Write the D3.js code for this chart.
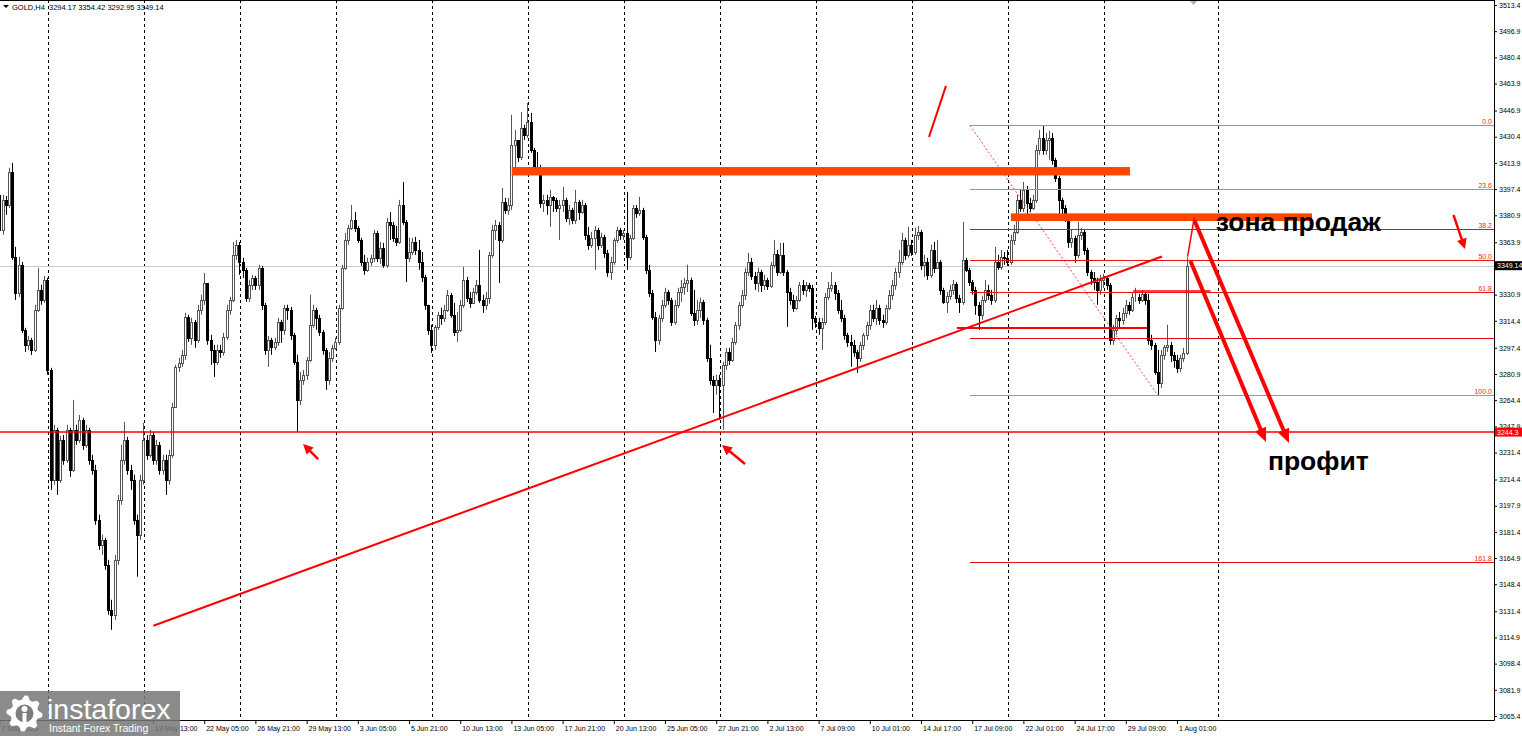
<!DOCTYPE html>
<html><head><meta charset="utf-8">
<script src="https://cdn.jsdelivr.net/npm/d3@7"></script>
<style>
body{margin:0;background:#fff;overflow:hidden}
svg{display:block}
text{font-family:"Liberation Sans",Arial,sans-serif}
</style>
</head><body>
<svg id="c" width="1522" height="736"></svg>
<script>
// ---------------- DATA ----------------
const symbolTitle = "GOLD,H4";
const firstOpen = 3393.8;
const closes = [
3371.7,3390.6,3387.4,3408.2,3354.7,3332.0,3349.7,3308.7,3299.3,3302.4,
3296.1,3321.3,3333.9,3327.6,3340.2,3283.5,3214.2,3245.7,3214.2,3239.4,
3226.8,3245.7,3220.5,3245.7,3239.4,3252.0,3236.3,3245.7,3226.8,3220.5,
3189.0,3173.3,3176.4,3160.6,3132.3,3129.2,3163.8,3201.6,3226.8,3239.4,
3220.5,3214.2,3189.0,3179.6,3214.2,3239.4,3230.0,3242.5,3226.8,3236.3,
3220.5,3226.8,3214.2,3230.0,3260.2,3285.4,3287.9,3293.0,3316.9,3303.7,
3313.7,3302.4,3321.3,3327.6,3338.3,3302.4,3296.1,3288.5,3296.1,3294.8,
3304.3,3321.3,3327.6,3356.0,3362.3,3351.5,3346.5,3328.9,3337.1,3341.5,
3337.1,3347.8,3324.5,3296.1,3302.4,3298.0,3301.1,3313.7,3308.7,3322.6,
3321.3,3305.6,3288.5,3264.6,3277.2,3280.4,3289.8,3311.9,3321.3,3316.3,
3307.4,3296.1,3277.2,3291.1,3297.4,3301.1,3322.6,3347.8,3365.4,3373.0,
3377.7,3373.0,3365.4,3351.5,3346.5,3351.5,3354.1,3369.8,3354.1,3360.4,
3349.7,3376.7,3374.9,3366.7,3364.1,3387.4,3376.7,3354.1,3357.8,3364.1,
3359.1,3351.5,3342.1,3324.5,3308.7,3299.3,3310.6,3318.2,3316.3,3321.3,
3330.8,3318.2,3307.4,3308.7,3324.5,3340.2,3328.9,3325.7,3332.6,3337.1,
3327.6,3324.5,3328.9,3356.0,3371.7,3374.9,3365.4,3389.3,3384.3,3387.4,
3425.3,3428.4,3417.6,3435.9,3431.6,3439.7,3422.1,3411.4,3410.8,3388.7,
3390.6,3387.4,3392.5,3390.6,3385.6,3387.4,3390.6,3379.3,3384.3,3378.0,
3389.3,3383.0,3387.4,3368.6,3362.3,3366.7,3371.7,3362.3,3367.3,3357.2,
3345.2,3351.5,3365.4,3371.7,3368.6,3369.8,3354.7,3366.7,3385.6,3382.4,
3384.3,3367.3,3346.5,3332.0,3316.9,3302.4,3316.3,3324.5,3332.6,3327.6,
3313.7,3324.5,3332.6,3335.8,3338.3,3340.2,3319.4,3315.0,3321.3,3326.3,
3315.0,3291.1,3277.2,3274.1,3277.2,3274.1,3286.7,3294.8,3289.8,3301.1,
3311.9,3324.5,3330.8,3345.2,3351.5,3342.7,3338.3,3345.2,3337.1,3340.2,
3336.4,3349.7,3356.6,3345.2,3356.0,3345.2,3332.6,3327.6,3322.6,3327.6,
3337.1,3333.9,3337.1,3335.2,3316.3,3313.7,3310.0,3313.7,3329.5,3335.2,
3337.1,3332.0,3321.3,3316.3,3305.6,3301.1,3299.3,3294.8,3291.1,3299.3,
3305.6,3311.9,3321.3,3316.3,3322.6,3315.0,3313.7,3322.6,3330.8,3337.1,
3345.2,3351.5,3365.4,3356.0,3362.3,3357.8,3368.6,3370.4,3349.7,3351.5,
3343.4,3359.1,3347.8,3351.5,3333.9,3326.3,3330.1,3333.9,3337.7,3328.9,
3326.3,3352.8,3346.5,3338.9,3333.9,3324.5,3318.2,3327.6,3333.9,3330.8,
3327.6,3351.5,3348.4,3354.7,3354.1,3351.5,3365.4,3370.4,3390.6,3385.6,
3396.9,3388.7,3385.6,3390.6,3422.1,3429.7,3422.1,3428.4,3429.7,3415.8,
3404.5,3390.6,3385.6,3379.3,3364.1,3366.7,3356.0,3368.6,3370.4,3359.1,
3345.2,3341.5,3338.9,3333.9,3340.2,3341.5,3337.1,3302.4,3308.7,3316.3,
3315.0,3319.4,3324.5,3321.3,3329.5,3329.5,3327.6,3331.4,3327.6,3302.4,
3299.3,3282.2,3275.3,3293.0,3298.0,3299.3,3293.0,3289.8,3284.8,3291.1,
3294.17,3349.14];
const highs = [
3396.9,3393.8,3393.1,3410.8,3413.9,3361.0,3354.7,3351.5,3310.0,3304.9,
3303.7,3324.5,3347.8,3337.1,3342.7,3341.5,3284.8,3248.9,3247.0,3241.9,
3242.5,3248.9,3247.0,3264.6,3248.9,3255.1,3253.3,3248.9,3247.0,3230.0,
3223.7,3192.2,3179.6,3177.7,3163.8,3138.6,3166.9,3204.7,3236.3,3250.7,
3241.3,3223.7,3217.4,3192.2,3217.4,3250.1,3242.5,3245.7,3244.4,3239.4,
3238.1,3230.0,3230.0,3233.1,3262.7,3286.7,3291.1,3296.1,3319.4,3318.2,
3316.3,3315.0,3324.5,3330.8,3344.6,3337.1,3305.6,3299.3,3299.3,3299.3,
3306.8,3324.5,3329.5,3364.1,3365.4,3364.1,3354.1,3347.8,3340.2,3343.4,
3342.7,3349.7,3349.0,3325.7,3304.9,3303.7,3303.7,3316.3,3315.0,3324.5,
3324.5,3323.2,3306.8,3293.0,3282.2,3283.5,3291.7,3330.8,3324.5,3322.6,
3318.2,3308.7,3297.4,3294.8,3299.3,3303.7,3324.5,3349.7,3369.8,3374.9,
3387.4,3383.0,3374.2,3366.7,3356.0,3354.1,3356.0,3371.7,3371.1,3364.1,
3363.5,3379.3,3383.0,3376.7,3374.2,3390.6,3401.9,3378.0,3366.7,3366.7,
3367.3,3365.4,3357.8,3343.4,3324.5,3311.9,3311.9,3320.0,3322.6,3324.5,
3333.9,3332.0,3325.7,3320.0,3327.6,3348.4,3342.1,3332.6,3335.2,3340.2,
3359.1,3330.8,3332.6,3357.8,3374.9,3378.0,3376.7,3398.1,3391.9,3391.9,
3444.2,3434.7,3428.4,3446.0,3437.9,3451.7,3445.4,3423.4,3420.8,3412.7,
3393.8,3393.8,3396.9,3393.1,3391.9,3390.6,3398.8,3391.9,3387.4,3385.6,
3396.9,3390.6,3390.6,3388.7,3373.6,3370.4,3374.2,3373.0,3369.8,3368.6,
3359.1,3354.7,3366.7,3373.6,3373.0,3371.7,3395.6,3368.6,3387.4,3387.4,
3392.5,3385.6,3368.6,3349.7,3333.9,3320.0,3318.2,3327.6,3335.2,3333.9,
3328.9,3327.6,3335.2,3340.2,3341.5,3349.7,3341.5,3333.9,3327.6,3328.9,
3327.6,3316.3,3299.3,3279.7,3280.4,3280.4,3288.5,3297.4,3297.4,3303.7,
3313.7,3326.3,3333.9,3347.8,3357.2,3354.1,3345.2,3347.8,3346.5,3343.4,
3341.5,3351.5,3365.4,3359.1,3363.5,3363.5,3346.5,3335.2,3330.8,3330.1,
3338.9,3340.2,3338.9,3338.3,3337.1,3317.5,3316.3,3316.3,3332.0,3338.9,
3345.2,3338.9,3333.9,3327.6,3318.2,3306.8,3305.6,3302.4,3296.1,3301.1,
3306.8,3313.7,3324.5,3324.5,3327.6,3324.5,3318.2,3324.5,3333.9,3340.2,
3347.8,3359.1,3369.8,3366.7,3373.6,3365.4,3373.0,3374.2,3371.7,3356.0,
3354.1,3362.3,3364.1,3365.4,3352.8,3335.2,3332.6,3337.1,3340.2,3338.9,
3330.8,3376.7,3354.1,3347.8,3340.2,3335.8,3326.3,3330.1,3340.2,3337.1,
3333.9,3361.0,3356.0,3359.1,3357.8,3359.1,3368.6,3374.9,3393.8,3396.9,
3401.9,3399.4,3391.9,3393.8,3425.3,3434.7,3437.5,3432.8,3434.1,3432.8,
3417.1,3405.7,3391.9,3387.4,3381.2,3371.7,3368.0,3376.7,3373.0,3371.7,
3360.4,3346.5,3345.2,3341.5,3343.4,3344.0,3342.7,3338.3,3311.9,3318.2,
3320.0,3322.6,3327.6,3326.3,3332.6,3335.2,3331.4,3333.9,3332.6,3331.4,
3305.6,3300.5,3296.1,3296.1,3299.3,3311.9,3301.1,3294.8,3293.0,3293.0,
3297.4,3354.42];
const lows = [
3367.3,3368.6,3381.2,3385.6,3352.8,3327.6,3329.5,3306.8,3294.8,3296.1,
3292.9,3294.8,3320.0,3324.5,3325.7,3280.4,3207.9,3211.1,3204.7,3212.3,
3223.7,3224.9,3216.1,3219.2,3236.3,3237.5,3233.1,3234.4,3223.7,3217.4,
3185.9,3170.1,3166.9,3157.5,3129.2,3119.7,3126.0,3160.6,3198.5,3223.7,
3217.4,3207.9,3185.9,3153.2,3176.4,3211.1,3226.8,3228.1,3223.7,3223.7,
3217.4,3217.4,3204.7,3211.1,3228.1,3259.6,3282.2,3285.4,3289.8,3301.1,
3299.3,3297.4,3300.5,3318.2,3324.5,3299.3,3286.7,3279.1,3286.7,3291.1,
3292.4,3302.4,3318.2,3326.3,3352.8,3343.4,3341.5,3326.3,3326.3,3333.9,
3333.9,3333.9,3321.3,3293.0,3285.4,3293.0,3296.1,3298.7,3300.5,3305.6,
3315.0,3302.4,3286.7,3244.4,3261.4,3274.1,3277.2,3288.5,3310.0,3308.7,
3304.9,3293.0,3270.9,3274.1,3288.5,3296.1,3299.3,3321.3,3346.5,3362.3,
3371.7,3370.4,3363.5,3349.0,3343.4,3345.2,3349.0,3351.5,3351.5,3350.3,
3347.8,3347.8,3365.4,3364.1,3361.6,3362.9,3374.9,3338.9,3351.5,3356.0,
3356.0,3346.5,3338.9,3321.3,3305.6,3294.2,3296.1,3308.7,3311.9,3313.7,
3320.0,3316.3,3304.9,3301.1,3307.4,3322.6,3326.3,3322.6,3325.1,3330.8,
3325.7,3319.4,3321.3,3325.1,3354.1,3365.4,3338.3,3363.5,3381.8,3381.2,
3384.3,3407.6,3414.5,3415.8,3428.4,3429.7,3420.2,3409.5,3406.4,3385.6,
3383.0,3381.2,3373.6,3383.0,3383.0,3365.4,3383.0,3376.7,3374.9,3375.5,
3375.5,3378.0,3381.8,3365.4,3359.1,3360.4,3346.5,3359.1,3360.4,3354.1,
3342.1,3340.2,3349.7,3363.5,3365.4,3365.4,3346.5,3352.8,3365.4,3379.3,
3380.5,3365.4,3343.9,3329.5,3315.0,3294.8,3299.3,3313.7,3322.6,3324.5,
3311.2,3311.9,3322.6,3326.3,3330.8,3332.6,3317.5,3311.2,3311.9,3316.3,
3311.9,3288.5,3274.1,3256.4,3267.8,3252.0,3245.7,3283.5,3286.7,3288.5,
3299.3,3308.7,3322.6,3327.6,3342.7,3340.2,3333.9,3332.6,3332.6,3333.9,
3333.9,3335.2,3347.8,3342.7,3343.9,3342.7,3310.6,3324.5,3320.0,3321.3,
3326.3,3330.8,3329.5,3332.6,3308.7,3310.0,3305.6,3296.1,3311.9,3327.6,
3332.6,3327.6,3318.8,3313.7,3302.4,3298.0,3285.4,3291.7,3281.6,3288.5,
3296.1,3302.4,3308.7,3313.7,3311.9,3311.9,3310.0,3311.9,3321.3,3327.6,
3333.9,3341.5,3349.7,3352.8,3354.1,3355.4,3356.0,3365.4,3346.5,3342.1,
3340.2,3341.5,3344.6,3349.0,3330.8,3325.1,3319.4,3327.6,3330.8,3325.7,
3319.4,3324.5,3345.2,3336.4,3330.8,3318.2,3308.7,3315.0,3325.7,3327.6,
3324.5,3325.7,3346.5,3346.5,3349.7,3349.0,3349.7,3362.3,3369.2,3383.0,
3383.0,3381.2,3383.0,3384.3,3388.7,3419.0,3419.0,3419.0,3415.8,3412.7,
3401.9,3381.2,3379.3,3376.7,3360.4,3360.4,3351.0,3354.1,3365.4,3356.0,
3342.7,3337.1,3333.9,3324.5,3330.8,3335.2,3333.9,3299.3,3299.3,3305.6,
3310.0,3311.9,3316.3,3318.2,3320.0,3326.3,3325.1,3326.3,3324.5,3299.3,
3296.1,3280.4,3267.5,3272.2,3289.8,3294.8,3288.5,3284.8,3281.6,3282.2,
3288.5,3292.95];

const priceTicks = [3513.4,3496.9,3480.4,3463.9,3446.9,3430.4,3413.9,3397.4,3380.9,3363.9,
  3330.9,3314.4,3297.4,3280.9,3264.4,3247.9,3231.4,3214.4,3197.9,3181.4,3164.9,3148.4,
  3131.4,3114.9,3098.4,3081.9,3065.4];
const timeIdx = [0,48,64,80,96,112,128,144,160,176,192,208,224,240,256,272,288,304,320,336,352,368];
const timeLabels = ["7 May 2025","19 May 13:00","22 May 05:00","26 May 21:00","29 May 13:00",
  "3 Jun 05:00","5 Jun 21:00","10 Jun 13:00","13 Jun 05:00","17 Jun 21:00","20 Jun 13:00",
  "25 Jun 05:00","27 Jun 21:00","2 Jul 13:00","7 Jul 09:00","10 Jul 01:00","14 Jul 17:00",
  "17 Jul 09:00","22 Jul 01:00","24 Jul 17:00","29 Jul 09:00","1 Aug 01:00"];
const gridIdx = [15.3,45.3,75.3,105.3,135.3,165.3,195.3,225.3,255.3,285.3,315.3,345.3,380.8];

// analysis objects (bar index, price)
const currentPrice = 3349.14;
const keyLevel = 3244.3;
const trendLine = [[48.1,3122.3],[363.3,3354.9]];
const sellZones = [
  {from:160.1,to:353.3,top:3411.3,bottom:3406.0},
  {from:316.1,to:410.2,top:3382.1,bottom:3377.3}];
const hLines = [
  {from:299.2,to:358.6,price:3309.8,w:2},
  {from:354.3,to:378.5,price:3333.2,w:1.5}];
const fibHigh = 3437.5, fibLow = 3267.5, fibStartIdx = 303.3, fibLowIdx = 362;
const fibLevels = [0,23.6,38.2,50,61.8,78.6,100,161.8];
const fibLabels = ["0.0","23.6","38.2","50.0","61.8","","100.0","161.8"];
const fibLight = [true,true,false,false,false,false,true,false];
const slashLine = [[290.5,3430.2],[295.8,3462.4]];
const thinPath = [[371.3,3354.8],[373.4,3379.5]];
const bigArrows = [
  [[373.4,3377.9],[403.0,3237.4]],
  [[372.2,3352.1],[395.8,3238.0]]];
const smallArrows = [
  [[99.6,3227.3],[94.9,3236.8]],
  [[233.0,3224.2],[225.8,3236.2]],
  [[454.4,3381.1],[458.0,3359.7]]];
const notes = [
  {text:"зона продаж", idx:380.1, price:3370.8},
  {text:"профит", idx:396.4, price:3220.4}];

// ---------------- CHART ----------------
const W = 1522, H = 736, PR = 1494, PB = 720;
const svg = d3.select("#c");
const x = d3.scaleLinear().domain([0,371]).range([-0.6,1186.6]);
const y = d3.scaleLinear().domain([3065.4,3513.4]).range([716,5]);

svg.append("defs").append("clipPath").attr("id","plot")
  .append("rect").attr("x",0).attr("y",0).attr("width",PR).attr("height",PB);
const plot = svg.append("g").attr("clip-path","url(#plot)");

// grid
plot.selectAll("line.grid").data(gridIdx).enter().append("line")
  .attr("x1",d=>Math.round(x(d))+0.5).attr("x2",d=>Math.round(x(d))+0.5)
  .attr("y1",0).attr("y2",PB).attr("stroke","#000").attr("stroke-width",1)
  .attr("stroke-dasharray","3,3");

// current price line
plot.append("line").attr("x1",0).attr("x2",PR)
  .attr("y1",Math.round(y(currentPrice))+0.5).attr("y2",Math.round(y(currentPrice))+0.5)
  .attr("stroke","#c8c8c8").attr("stroke-width",1);

// candles
const bars = closes.map((c,i)=>({i, o: i===0?firstOpen:closes[i-1], c, h:highs[i], l:lows[i]}));
const cg = plot.append("g");
bars.forEach(b=>{
  const bull = b.c >= b.o;
  const cx = Math.round(x(b.i));
  const col = bull ? "#555" : "#000";
  cg.append("line").attr("x1",cx+0.5).attr("x2",cx+0.5)
    .attr("y1",y(b.h)).attr("y2",y(b.l)).attr("stroke",col).attr("stroke-width",1);
  const t = Math.round(y(Math.max(b.o,b.c)))+0.5;
  const bt = Math.round(y(Math.min(b.o,b.c)))+0.5;
  cg.append("rect").attr("x",cx-0.5).attr("y",t).attr("width",2).attr("height",Math.max(bt-t,0))
    .attr("fill",bull?"#fff":"#000").attr("stroke",col).attr("stroke-width",1);
});

// fibonacci
const fibPrice = l => fibHigh - (fibHigh-fibLow)*l/100;
plot.append("line").attr("x1",x(fibStartIdx)).attr("y1",y(fibHigh))
  .attr("x2",x(fibLowIdx)).attr("y2",y(fibLow))
  .attr("stroke","#ff4040").attr("stroke-width",1).attr("stroke-dasharray","2,2");
fibLevels.forEach((l,k)=>{
  const yy = Math.round(y(fibPrice(l)))+0.5;
  plot.append("line").attr("x1",x(fibStartIdx)).attr("x2",PR).attr("y1",yy).attr("y2",yy)
    .attr("stroke",fibLight[k]?"#ff7070":"#ee1010").attr("stroke-width",1);
  if(fibLabels[k]) plot.append("text").attr("x",PR-2).attr("y",yy-2)
    .attr("text-anchor","end").attr("font-size","7px").attr("fill","#ff2020").text(fibLabels[k]);
});

// key level
plot.append("line").attr("x1",0).attr("x2",PR).attr("y1",y(keyLevel)).attr("y2",y(keyLevel))
  .attr("stroke","#ff0000").attr("stroke-width",1.5);

// trend line
plot.append("line").attr("x1",x(trendLine[0][0])).attr("y1",y(trendLine[0][1]))
  .attr("x2",x(trendLine[1][0])).attr("y2",y(trendLine[1][1]))
  .attr("stroke","#ff0000").attr("stroke-width",2);

// horizontal short lines
hLines.forEach(h=>{
  plot.append("line").attr("x1",x(h.from)).attr("x2",x(h.to)).attr("y1",y(h.price)).attr("y2",y(h.price))
    .attr("stroke","#ff0000").attr("stroke-width",h.w);
});

// sell zones
sellZones.forEach(z=>{
  plot.append("rect").attr("x",x(z.from)).attr("width",x(z.to)-x(z.from))
    .attr("y",y(z.top)).attr("height",y(z.bottom)-y(z.top)).attr("fill","#ff4500");
});

// slash & thin path
[slashLine].forEach(s=>{
  plot.append("line").attr("x1",x(s[0][0])).attr("y1",y(s[0][1])).attr("x2",x(s[1][0])).attr("y2",y(s[1][1]))
    .attr("stroke","#ff0000").attr("stroke-width",2);
});
plot.append("line").attr("x1",x(thinPath[0][0])).attr("y1",y(thinPath[0][1]))
  .attr("x2",x(thinPath[1][0])).attr("y2",y(thinPath[1][1])).attr("stroke","#ff0000").attr("stroke-width",1.5);

function arrow(seg, w, len, half){
  const x1=x(seg[0][0]), y1=y(seg[0][1]), x2=x(seg[1][0]), y2=y(seg[1][1]);
  const a=Math.atan2(y2-y1,x2-x1);
  const bx=x2-len*Math.cos(a), by=y2-len*Math.sin(a);
  const px=-Math.sin(a)*half, py=Math.cos(a)*half;
  plot.append("line").attr("x1",x1).attr("y1",y1).attr("x2",bx+Math.cos(a)*2).attr("y2",by+Math.sin(a)*2)
    .attr("stroke","#ff0000").attr("stroke-width",w);
  plot.append("path").attr("d",`M${x2},${y2}L${bx+px},${by+py}L${bx-px},${by-py}Z`).attr("fill","#ff0000");
}
bigArrows.forEach(s=>arrow(s,4,14,6));
smallArrows.forEach(s=>arrow(s,2.5,10,5));

// notes
notes.forEach(n=>{
  plot.append("text").attr("x",x(n.idx)).attr("y",y(n.price)).attr("font-size","26.5px")
    .attr("font-weight","bold").attr("fill","#000").text(n.text);
});

// frame
svg.append("line").attr("x1",0).attr("x2",PR+0.5).attr("y1",0.5).attr("y2",0.5).attr("stroke","#000");
svg.append("line").attr("x1",PR+0.5).attr("x2",PR+0.5).attr("y1",0).attr("y2",PB+0.5).attr("stroke","#000");
svg.append("line").attr("x1",0).attr("x2",PR+0.5).attr("y1",PB+0.5).attr("y2",PB+0.5).attr("stroke","#000");

// right axis
const yAxis = d3.axisRight(y).tickValues(priceTicks).tickSize(3).tickPadding(2).tickFormat(d3.format(".1f"));
const ya = svg.append("g").attr("transform",`translate(${PR},0)`).call(yAxis);
ya.select(".domain").remove();
ya.attr("font-family","Liberation Sans, Arial, sans-serif").attr("font-size","7px");
ya.selectAll("text").attr("fill","#000");

// bottom axis
const xAxis = d3.axisBottom(x).tickValues(timeIdx).tickSize(4).tickFormat((d,i)=>timeLabels[i]);
const xa = svg.append("g").attr("transform",`translate(0,${PB})`).call(xAxis);
xa.select(".domain").remove();
xa.attr("font-family","Liberation Sans, Arial, sans-serif").attr("font-size","7px");
xa.selectAll("text").attr("text-anchor","start").attr("x",1.5).attr("y",10.5).attr("dy",0).attr("fill","#000");

// price boxes
function priceBox(p, bg, label){
  const yy = y(p);
  svg.append("rect").attr("x",PR+1).attr("y",yy-4.5).attr("width",W-PR-1).attr("height",9).attr("fill",bg);
  svg.append("text").attr("x",PR+3).attr("y",yy+2.6).attr("font-size","7px").attr("fill","#fff").text(label);
}
priceBox(currentPrice,"#000",currentPrice.toFixed(2));
priceBox(keyLevel,"#ff0000",keyLevel.toFixed(1));

// header
const last = bars[bars.length-1];
svg.append("path").attr("d","M3,5L9,5L6,8Z").attr("fill","#000");
svg.append("text").attr("x",12).attr("y",9.5).attr("font-size","7.5px").attr("fill","#000").text(symbolTitle);
svg.append("text").attr("x",49).attr("y",9.5).attr("font-size","7.5px").attr("fill","#000")
  .text([last.o,last.h,last.l,last.c].map(v=>v.toFixed(2)).join(" "));
svg.append("path").attr("d","M1190,1L1197,1L1193.5,5Z").attr("fill","#b0b0b0");

// watermark
const wm = svg.append("g");
wm.append("rect").attr("x",0).attr("y",691).attr("width",180).attr("height",45).attr("fill","#777").attr("opacity",0.85);
const gcx=24.5, gcy=713.5, teeth=8;
let gp="";
for(let k=0;k<teeth*4;k++){
  const ang = (k/(teeth*4))*Math.PI*2 - Math.PI/2;
  const r = (k%4<2)?18:14;
  gp += (k===0?"M":"L")+(gcx+r*Math.cos(ang)).toFixed(2)+","+(gcy+r*Math.sin(ang)).toFixed(2);
}
gp+="Z";
wm.append("path").attr("d",gp).attr("fill","#fff");
wm.append("circle").attr("cx",gcx).attr("cy",gcy).attr("r",9).attr("fill","#7d7d7d");
wm.append("circle").attr("cx",gcx).attr("cy",gcy-4.5).attr("r",3).attr("fill","#fff");
wm.append("rect").attr("x",gcx-2).attr("y",gcy-0.5).attr("width",4).attr("height",11).attr("fill","#fff");
wm.append("text").attr("x",47).attr("y",719).attr("font-family","Open Sans, sans-serif")
  .attr("font-size","28.5px").attr("fill","#fff").text("instaforex");
wm.append("text").attr("x",49).attr("y",732).attr("font-family","Open Sans, sans-serif")
  .attr("font-size","10.5px").attr("fill","#fff").text("Instant Forex Trading");
</script>
</body></html>
